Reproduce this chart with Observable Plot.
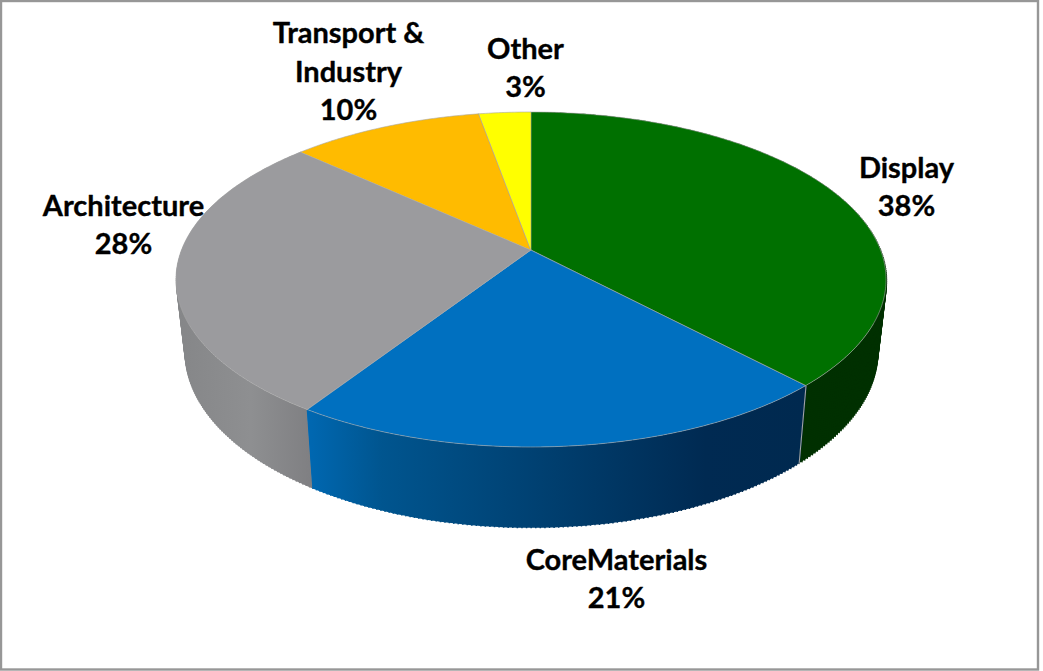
<!DOCTYPE html>
<html>
<head>
<meta charset="utf-8">
<script src="https://cdn.jsdelivr.net/npm/d3@7"></script>
<script src="https://cdn.jsdelivr.net/npm/@observablehq/plot@0.6"></script>
<style>
  html, body { margin: 0; padding: 0; background: #fff; overflow: hidden; }
  svg { display: block; }
</style>
</head>
<body>
<div id="chart"></div>
<script>
// Data, clockwise from twelve o'clock
const categories = ["Display", "CoreMaterials", "Architecture", "Transport &\nIndustry", "Other"];
const shares = [38.0, 21.2, 27.6, 10.4, 2.8];

// Styles
const topColors = ["#007000", "#0070c0", "#9b9b9e", "#ffbb00", "#ffff00"];
const wallColors = ["#003000", "url(#coreWall)", "url(#archWall)", null, null];

// Perspective camera of the pie, in page pixels
const cam = {cx: 531, cy: 250, R: 349.5, H: 162.3, k: 0.1761, sx: 0.975, sy: 1.05, drop: 71};
const project = (a) => {
  const u = Math.sin(a), v = Math.cos(a), d = 1 + cam.k * v;
  return {X: cam.R * u / d, Y: -cam.H * v / d};
};
const topPt = (a) => { const p = project(a); return [cam.cx + p.X, cam.cy + p.Y]; };
const botPt = (a) => { const p = project(a); return [cam.cx + cam.sx * p.X, cam.cy + cam.sy * p.Y + cam.drop]; };

const arcs = d3.pie().sort(null)(shares);
const sweep = (arc) => {
  const n = Math.max(8, Math.ceil((arc.endAngle - arc.startAngle) * 90));
  return d3.range(n + 1).map((i) => arc.startAngle + (arc.endAngle - arc.startAngle) * i / n);
};
const edges = (arc) => sweep(arc).map((a) => { const [x1, y1] = topPt(a), [x2, y2] = botPt(a); return {x1, y1, x2, y2}; });

const topMark = (arc, i) => Plot.area(
  sweep(arc).map((a) => { const [x, y] = topPt(a); return {x1: cam.cx, y1: cam.cy, x2: x, y2: y}; }),
  {x1: "x1", y1: "y1", x2: "x2", y2: "y2", fill: topColors[i], stroke: "#a8a8a8", strokeWidth: 0.7, strokeOpacity: 0.85, curve: "linear"}
);
const wallMarks = (arc, i) => wallColors[i] ? [
  Plot.area(edges(arc), {x1: "x1", y1: "y1", x2: "x2", y2: "y2", fill: wallColors[i], curve: "linear"}),
  // the generators of the wall fill the silhouette where the two rims cross
  Plot.link(edges(arc), {x1: "x1", y1: "y1", x2: "x2", y2: "y2", stroke: wallColors[i], strokeWidth: 1.5})
] : [];
// Wall seam between Display and CoreMaterials
const seam = [arcs[0].endAngle].flatMap((a) => { const [x1, y1] = topPt(a), [x2, y2] = botPt(a); return [{x: x1, y: y1}, {x: x2, y: y2}]; });

const gradient = (defs, id, from, to, stops) => {
  const g = defs.append("linearGradient").attr("id", id).attr("gradientUnits", "userSpaceOnUse")
    .attr("x1", from).attr("x2", to).attr("y1", 0).attr("y2", 0);
  stops.forEach(([o, c]) => g.append("stop").attr("offset", o).attr("stop-color", c));
};

const labels = categories.map((c, i) => `${c}\n${Math.round(shares[i])}%`);
const labelCentres = [[906, 184], [616, 576], [123, 222], [348, 69], [525, 65]];

const chart = Plot.plot({
  width: 1043,
  height: 671,
  margin: 0,
  style: {background: "#fff"},
  x: {domain: [0, 1043], range: [0, 1043], axis: null},
  y: {domain: [0, 671], range: [0, 671], axis: null},
  marks: [
    () => {
      const defs = d3.create("svg:defs");
      gradient(defs, "coreWall", 307, 805, [[0, "#0068b2"], [0.15, "#00558f"], [0.5, "#003e6e"], [0.8, "#002a52"], [1, "#00294f"]]);
      gradient(defs, "archWall", 176, 312, [[0, "#858688"], [0.55, "#8e8f91"], [1, "#7f7f82"]]);
      return defs.node();
    },
    Plot.rect([{x1: 1, y1: 1, x2: 1038, y2: 669.5}], {x1: "x1", y1: "y1", x2: "x2", y2: "y2", fill: "#fff", stroke: "#979797", strokeWidth: 2.4}),
    // back to front: Display first, then Architecture, so CoreMaterials' edge stays clean
    ...[0, 2, 1].flatMap((i) => wallMarks(arcs[i], i)),
    Plot.line(seam, {x: "x", y: "y", stroke: "#a8a8a8", strokeWidth: 1}),
    ...arcs.map(topMark),
    Plot.text(labels, {
      x: (_, i) => labelCentres[i][0],
      y: (_, i) => labelCentres[i][1],
      text: (d) => d,
      fontFamily: "Lato",
      fontWeight: 700,
      fontSize: 29,
      lineHeight: 1.33,
      fill: "#000",
      stroke: "#000",
      strokeWidth: 0.35,
      textAnchor: "middle",
      lineAnchor: "middle"
    })
  ]
});
document.getElementById("chart").append(chart);
</script>
</body>
</html>
